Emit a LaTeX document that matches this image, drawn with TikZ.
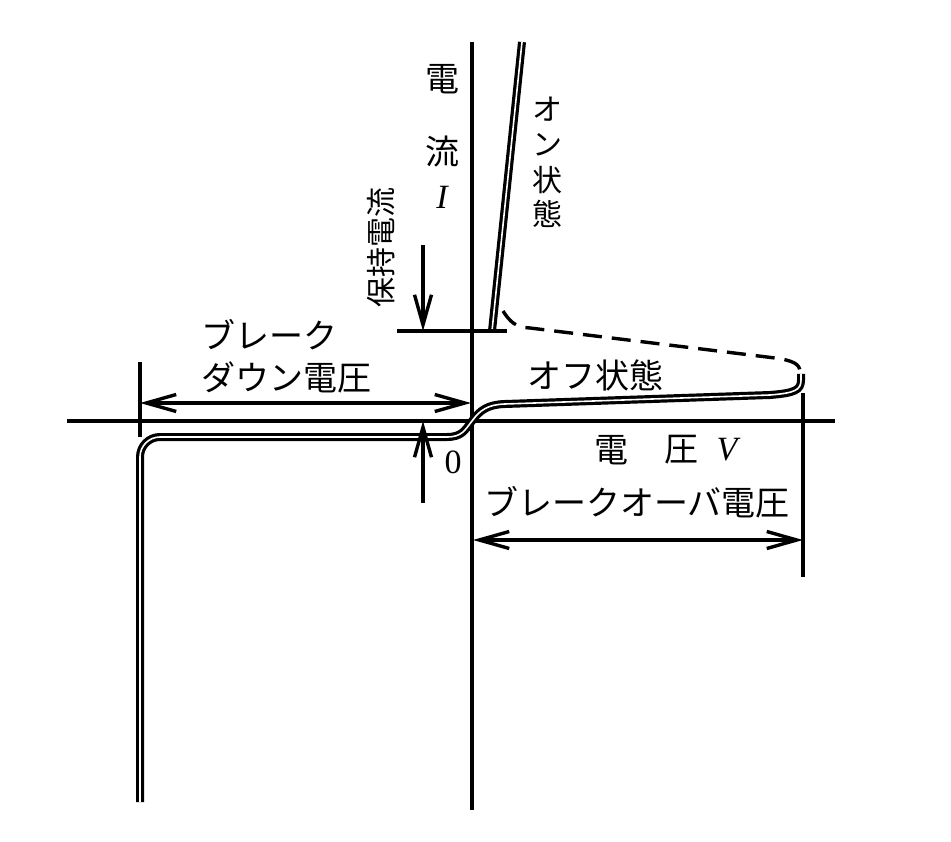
\documentclass[tikz,border=0pt]{standalone}
\usepackage{fontspec}
\setmainfont{Liberation Serif}
\newfontfamily\jp{Noto Sans CJK JP}
\usetikzlibrary{arrows.meta}
\begin{document}
\begin{tikzpicture}[x=1pt,y=-1pt,
  axis/.style={line width=3.4pt},
  dimline/.style={line width=3.4pt},
  barb/.tip={Straight Barb[length=30pt,width=17pt]},
  dimarrow/.style={line width=3.4pt,barb-barb},
  onearrow/.style={line width=3.4pt,-barb},
  curve/.style={double=white,double distance=1.6pt,line width=3.2pt},
  dashcurve/.style={line width=3.4pt,dash pattern=on 19pt off 10pt},
  lbl/.style={inner sep=0pt,font=\jp\fontsize{34}{40}\selectfont},
  slbl/.style={inner sep=0pt,font=\jp\fontsize{30}{36}\selectfont},
  sym/.style={inner sep=0pt,font=\fontsize{34}{40}\selectfont\itshape},
]
\useasboundingbox (0,0) rectangle (951,842);
\fill[white] (0,0) rectangle (951,842);

% axes
\coordinate (xl) at (67,421);
\coordinate (xr) at (835,421);
\coordinate (yt) at (472,42);
\coordinate (yb) at (472,810);
\draw[axis] (xl) -- (xr);
\draw[axis] (yt) -- (yb);

% characteristic curve
\coordinate (c0) at (140,802);
\coordinate (c1) at (140,437);
\coordinate (c2) at (447,437);
\coordinate (o) at (472,421);
\coordinate (c3) at (505,404);
\coordinate (c4) at (770,395);
\coordinate (c5) at (801,374);
\draw[curve,rounded corners=20pt] (c0) -- (c1) -- (c2);
\draw[curve] (c2) .. controls (462,437) and (465,430) .. (o)
  .. controls (480,410) and (488,404.5) .. (c3) -- (c4)
  .. controls (795,393) and (801,390) .. (801,380) -- (c5);

% on state line
\coordinate (on0) at (492,331);
\coordinate (on1) at (522,42);
\draw[curve] (on0) -- (on1);

% dashed return
\coordinate (d0) at (503,311);
\coordinate (d1) at (530,328);
\coordinate (d2) at (775,358);
\coordinate (d3) at (800,372);
\draw[dashcurve] (d0) .. controls (510,322) and (516,327.5) .. (d1) -- (d2)
  .. controls (793,360.5) and (800,364) .. (d3);

% holding current
\coordinate (h0) at (397,331);
\coordinate (h1) at (507,331);
\draw[dimline] (h0) -- (h1);
\coordinate (ht) at (423,245);
\coordinate (hm) at (423,331);
\coordinate (hz) at (423,421);
\coordinate (hb) at (423,503);
\draw[onearrow] (ht) -- (hm);
\draw[onearrow] (hb) -- (hz);

% breakdown voltage dimension
\coordinate (bd0) at (140,362);
\coordinate (bd1) at (140,437);
\draw[dimline] (bd0) -- (bd1);
\coordinate (bda) at (140,403);
\coordinate (bdb) at (471,403);
\draw[dimarrow] (bda) -- (bdb);

% breakover voltage dimension
\coordinate (bo0) at (803,393);
\coordinate (bo1) at (803,577);
\draw[dimline] (bo0) -- (bo1);
\coordinate (boa) at (473,540);
\coordinate (bob) at (803,540);
\draw[dimarrow] (boa) -- (bob);

% labels
\node[lbl] (iy1) at (442,79) {電};
\node[lbl] (iy2) at (442,152) {流};
\node[sym] (iy3) at (442,197) {I};
\node[slbl,rotate=90] (hold) at (381,248) {保持電流};
\node[slbl] (on1t) at (547,109) {オ};
\node[slbl] (on2t) at (547,145) {ン};
\node[slbl] (on3t) at (547,180) {状};
\node[slbl] (on4t) at (547,214) {態};
\node[lbl,anchor=west] (bdl1) at (201,335) {ブレーク};
\node[lbl,anchor=west] (bdl2) at (201,377) {ダウン電圧};
\node[lbl] (off) at (595,375) {オフ状態};
\node[inner sep=0pt,font=\fontsize{34}{40}\selectfont] (zero) at (453,462) {0};
\node[lbl] (vx1) at (611,450) {電};
\node[lbl] (vx2) at (681,450) {圧};
\node[sym] (vx3) at (727,450) {V};
\node[lbl] (bol) at (637,502) {ブレークオーバ電圧};
\end{tikzpicture}
\end{document}
